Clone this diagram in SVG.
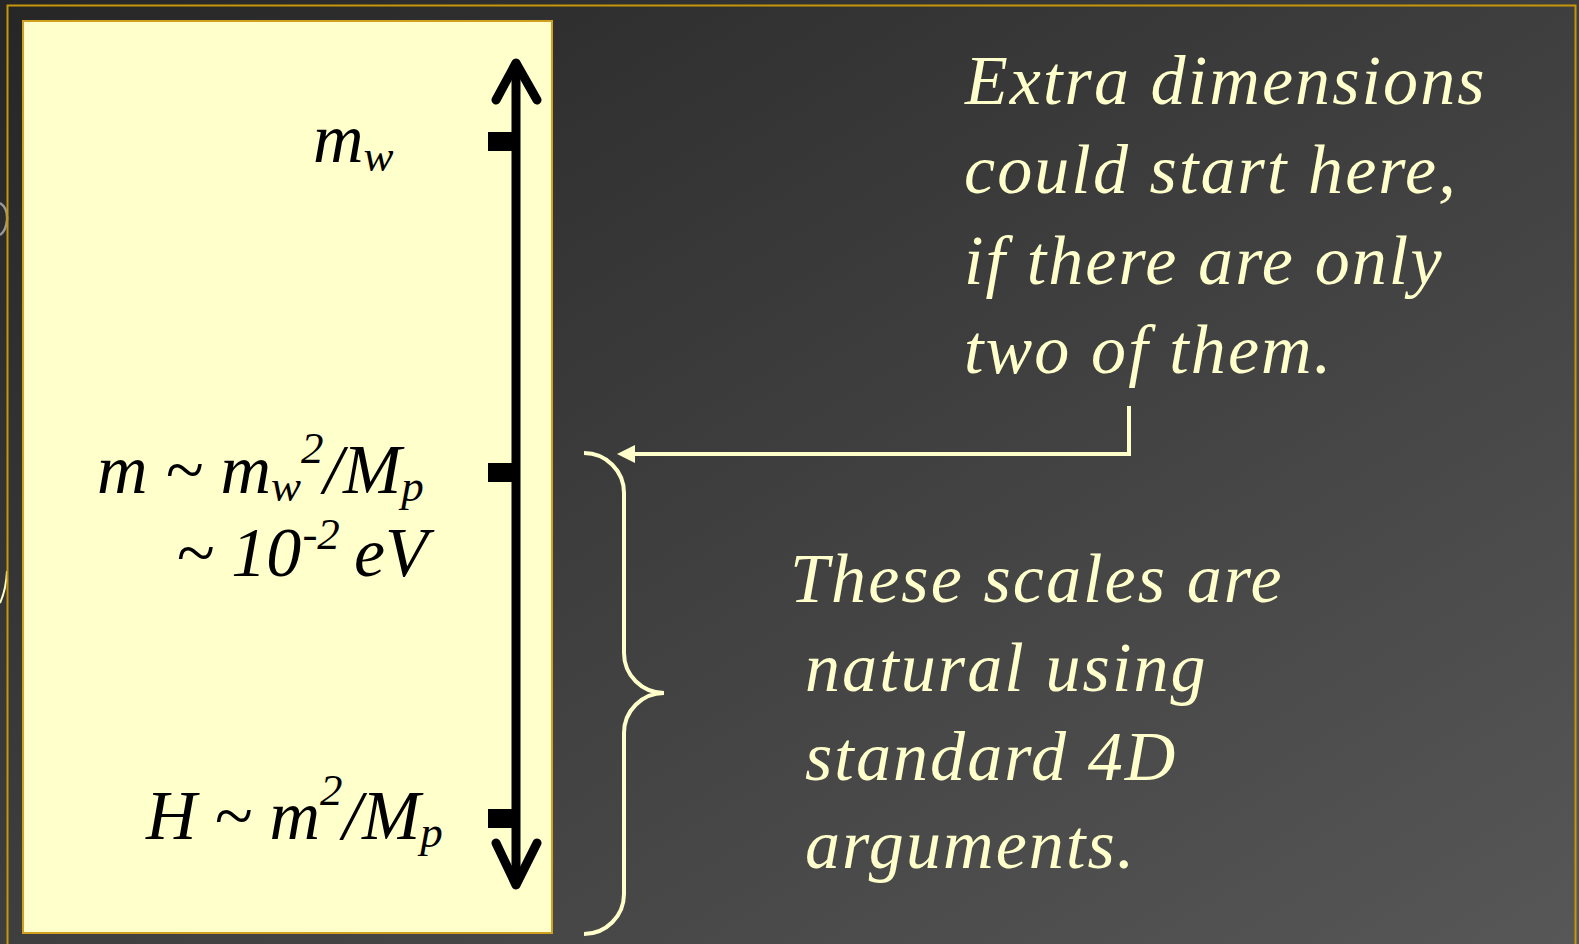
<svg xmlns="http://www.w3.org/2000/svg" width="1579" height="944" viewBox="0 0 1579 944">
<defs>
<linearGradient id="bg" x1="0" y1="0" x2="1" y2="1">
<stop offset="0" stop-color="#262626"/>
<stop offset="1" stop-color="#575757"/>
</linearGradient>
<marker id="ah" markerUnits="userSpaceOnUse" markerWidth="20" markerHeight="20" refX="5" refY="9" orient="auto">
<path d="M0,0 L18,9 L0,18 z" fill="#FFFFCC"/>
</marker>
</defs>
<style>
.blk{font-family:"Liberation Serif","Times New Roman",serif;font-style:italic;font-size:70px;fill:#000}
.crm{font-family:"Liberation Serif","Times New Roman",serif;font-style:italic;font-size:70px;fill:#FFFFCC;letter-spacing:2.1px}
.sm{font-size:45px}
.conn{fill:none;stroke:#FFFFCC;stroke-width:4}
.axis{fill:none;stroke:#000;stroke-width:9;stroke-linecap:round;stroke-linejoin:round}
</style>
<rect x="0" y="0" width="1579" height="944" fill="url(#bg)"/>
<path d="M0,203 Q8,208 7,220 Q6,231 0,235" fill="none" stroke="#9a9a9a" stroke-width="2.5"/>
<path d="M7,571 Q6,590 0,603" fill="none" stroke="#FFFFCC" stroke-width="2"/>
<rect x="7.5" y="5.5" width="1568" height="1000" fill="none" stroke="#C8960A" stroke-width="2"/>
<g id="scale-panel">
<rect x="23" y="21" width="529" height="912" fill="#FFFFCC" stroke="#D0A020" stroke-width="2"/>
</g>
<g id="axis">
<line x1="516" y1="64" x2="516" y2="884" class="axis" stroke-linecap="butt"/>
<polyline points="496,100 516,63 537,100" class="axis"/>
<polyline points="496,843 516,885 537,843" class="axis"/>
<rect x="488" y="132" width="26" height="19" fill="#000"/>
<rect x="488" y="463" width="26" height="19" fill="#000"/>
<rect x="488" y="809" width="26" height="19" fill="#000"/>
</g>
<g id="label-mw">
<text class="blk" x="313" y="162">m<tspan class="sm" dy="9">w</tspan></text>
</g>
<g id="label-m">
<text class="blk" x="97" y="493">m ~ m<tspan class="sm" dy="8">w</tspan><tspan class="sm" dy="-38">2</tspan><tspan dy="30">/M</tspan><tspan class="sm" dy="8">p</tspan></text>
<text class="blk" x="176" y="576">~ 10<tspan class="sm" dx="1" dy="-27">-2</tspan><tspan x="354" dy="27">eV</tspan></text>
</g>
<g id="label-H">
<text class="blk" x="146" y="839">H ~ m<tspan class="sm" dy="-34">2</tspan><tspan dy="34">/M</tspan><tspan class="sm" dy="8">p</tspan></text>
</g>
<g id="note-extra">
<text class="crm" x="965" y="104">Extra dimensions</text>
<text class="crm" x="964" y="193" letter-spacing="1.8">could start here,</text>
<text class="crm" x="964" y="284">if there are only</text>
<text class="crm" x="964" y="373">two of them.</text>
</g>
<g id="note-scales">
<text class="crm" x="790" y="602">These scales are</text>
<text class="crm" x="805" y="691">natural using</text>
<text class="crm" x="805" y="780">standard 4D</text>
<text class="crm" x="805" y="868">arguments.</text>
</g>
<g id="connectors">
<path class="conn" d="M1129,406 V454 H630" marker-end="url(#ah)"/>
<path class="conn" d="M584,453 A40,40 0 0 1 624,493 V653 A40,40 0 0 0 664,693 A40,40 0 0 0 624,733 V894 A40,40 0 0 1 584,934"/>
</g>
</svg>
